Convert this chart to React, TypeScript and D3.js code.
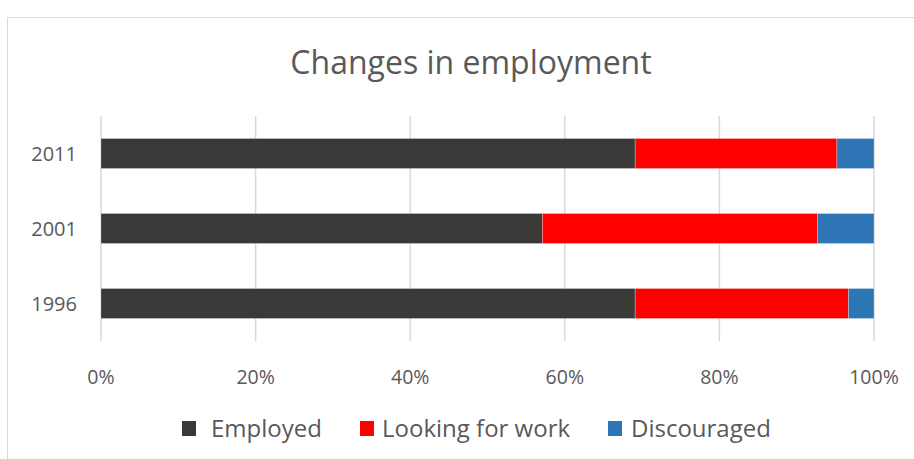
import React from "react";
import * as d3 from "d3";

const years = ["2011", "2001", "1996"];
const seriesNames = ["Employed", "Looking for work", "Discouraged"];
const employed = [69.1, 57.1, 69.1];
const lookingForWork = [26.1, 35.6, 27.6];
const discouraged = [4.8, 7.3, 3.3];
const tickValues = [0, 0.2, 0.4, 0.6, 0.8, 1.0];
const colors = ["#3b3838", "#ff0000", "#2e75b6"];

const W = 914;
const H = 459;
const FONT = "'Open Sans', sans-serif";
const TEXT = "#595959";

export default function App() {
  const rows = years.map((y, i) => {
    const total = employed[i] + lookingForWork[i] + discouraged[i];
    return {
      year: y,
      Employed: employed[i] / total,
      "Looking for work": lookingForWork[i] / total,
      Discouraged: discouraged[i] / total,
    };
  });
  const stack = d3.stack<any>().keys(seriesNames);
  const stacked = stack(rows);

  const x = d3.scaleLinear().domain([0, 1]).range([101, 874]);
  const y = d3.scaleBand().domain(years).range([116, 341]).paddingInner(0.6).paddingOuter(0.3);
  const fmt = d3.format(".0%");

  const legendItems = [
    { name: seriesNames[0], sx: 182, tx: 211 },
    { name: seriesNames[1], sx: 360, tx: 382 },
    { name: seriesNames[2], sx: 608, tx: 631 },
  ];

  return (
    <svg width={W} height={H} style={{ position: "absolute", left: 0, top: 0 }} fontFamily={FONT}>
      <rect x={0} y={0} width={W} height={H} fill="#fff" />
      <rect x={7.5} y={17.5} width={W + 20} height={H + 20} fill="#fff" stroke="#d9d9d9" />
      <text x={471} y={74} textAnchor="middle" fontSize={32} fill={TEXT}>
        Changes in employment
      </text>
      {tickValues.map((t) => (
        <line key={t} x1={x(t)} x2={x(t)} y1={116} y2={341} stroke="#d9d9d9" strokeWidth={1.5} />
      ))}
      {stacked.map((s, si) => (
        <g key={s.key} fill={colors[si]}>
          {s.map((d, i) => (
            <rect
              key={i}
              x={x(d[0])}
              y={y(rows[i].year)}
              width={x(d[1]) - x(d[0])}
              height={y.bandwidth()}
              stroke="#ffffff"
              strokeOpacity={0.35}
              strokeWidth={0.75}
            />
          ))}
        </g>
      ))}
      {years.map((yr) => (
        <text key={yr} x={77} y={(y(yr) as number) + y.bandwidth() / 2} dy="0.35em" textAnchor="end" fontSize={20} fill={TEXT}>
          {yr}
        </text>
      ))}
      {tickValues.map((t) => (
        <text key={t} x={x(t)} y={384} textAnchor="middle" fontSize={19.5} fill={TEXT}>
          {fmt(t)}
        </text>
      ))}
      {legendItems.map((l, i) => (
        <g key={l.name}>
          <rect x={l.sx} y={421} width={14} height={15} fill={colors[i]} />
          <text x={l.tx} y={437} fontSize={24} fill={TEXT}>
            {l.name}
          </text>
        </g>
      ))}
    </svg>
  );
}
